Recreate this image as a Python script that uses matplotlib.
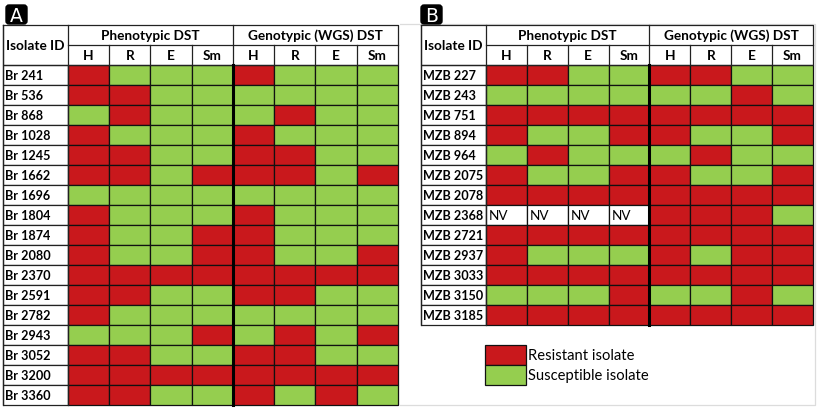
import matplotlib
matplotlib.use("Agg")
import matplotlib.pyplot as plt
from matplotlib.patches import Rectangle, FancyBboxPatch

plt.rcParams['font.family'] = ['Lato', 'DejaVu Sans']

# ---------------- data ----------------
drugs = ["H", "R", "E", "Sm"]
groups = ["Phenotypic DST", "Genotypic (WGS) DST"]

isolates_A = ["Br 241", "Br 536", "Br 868", "Br 1028", "Br 1245", "Br 1662", "Br 1696",
              "Br 1804", "Br 1874", "Br 2080", "Br 2370", "Br 2591", "Br 2782", "Br 2943",
              "Br 3052", "Br 3200", "Br 3360"]
pheno_A = ["RSSS", "RRSS", "SRSS", "RSSS", "RRSS", "RRSR", "SSSS",
           "RSSS", "RSSR", "RSSR", "RRRR", "RRSS", "RSSS", "SSSR",
           "RRSS", "RRRR", "RRSS"]
geno_A = ["RSSS", "SSSS", "SRSS", "RSSS", "RRSS", "RRSR", "SSSS",
          "RSSS", "RSSS", "RSSR", "RRRR", "RRSS", "SSSS", "SRSR",
          "RRSS", "RRRR", "RSRS"]

isolates_B = ["MZB 227", "MZB 243", "MZB 751", "MZB 894", "MZB 964", "MZB 2075", "MZB 2078",
              "MZB 2368", "MZB 2721", "MZB 2937", "MZB 3033", "MZB 3150", "MZB 3185"]
pheno_B = ["RRSS", "SSSS", "RRRR", "RSSR", "SRSS", "RSSR", "RRRR",
           "NNNN", "RRRR", "RSSS", "RRRR", "SSSR", "RRRR"]
geno_B = ["RRSS", "SSRS", "RRRR", "RSSR", "SRSS", "RSSR", "RRRR",
          "RRRS", "RRRR", "RSRR", "RRRR", "SSRS", "RRRR"]

legend_labels = ["Resistant isolate", "Susceptible isolate"]

RED = "#C9181C"
GREEN = "#95CE4F"
colors = {"R": RED, "S": GREEN, "N": "white"}

# ---------------- figure ----------------
W, H = 817, 410
fig = plt.figure(figsize=(W / 100, H / 100), dpi=100)
ax = fig.add_axes([0, 0, 1, 1])
ax.set_xlim(0, W)
ax.set_ylim(H, 0)
ax.axis("off")

# faint frame of panel B image
ax.plot([400, 815, 815, 400], [25, 25, 406, 406], color="#dcdcdc", lw=0.9, zorder=0)

FS_HEAD = 9.8
FS_ROW = 9.1


def draw_panel(letter, lx, x0, xid, x1, isolates, pheno, geno):
    top, h1, h2, rh = 26, 20, 20, 20
    y_data = top + h1 + h2
    n = len(isolates)
    colw = (x1 - xid) / 8.0
    ybot = y_data + n * rh

    # letter badge
    ax.add_patch(FancyBboxPatch((lx, 6), 21, 19, boxstyle="round,pad=0,rounding_size=3",
                                fc="black", ec="black", zorder=5))
    ax.text(lx + 10.5, 16, letter, color="white", ha="center", va="center",
            fontsize=13.5, zorder=6, family=["DejaVu Sans"])

    # header background
    ax.add_patch(Rectangle((x0, top), x1 - x0, h1 + h2, fc="white", ec="none", zorder=1))
    ax.text((x0 + xid) / 2, top + (h1 + h2) / 2, "Isolate ID", ha="center", va="center",
            fontsize=FS_HEAD, fontweight="bold", zorder=4)
    for g, gname in enumerate(groups):
        gx = xid + g * 4 * colw
        ax.text(gx + 2 * colw, top + h1 / 2, gname, ha="center", va="center",
                fontsize=FS_HEAD, fontweight="bold", zorder=4)
        for d, dn in enumerate(drugs):
            cx = gx + (d + 0.5) * colw
            ax.text(cx, top + h1 + h2 / 2, dn, ha="center", va="center",
                    fontsize=FS_HEAD, fontweight="bold", zorder=4)

    # data cells
    for i, name in enumerate(isolates):
        y = y_data + i * rh
        ax.add_patch(Rectangle((x0, y), xid - x0, rh, fc="white", ec="#222222", lw=0.9, zorder=2))
        ax.text(x0 + 2, y + rh / 2 + 0.5, name, ha="left", va="center",
                fontsize=FS_ROW, fontweight="bold", zorder=4)
        for g, codes in enumerate([pheno[i], geno[i]]):
            for d, c in enumerate(codes):
                cx = xid + (g * 4 + d) * colw
                ax.add_patch(Rectangle((cx, y), colw, rh, fc=colors[c], ec="#111111",
                                       lw=0.9, zorder=2))
                if c == "N":
                    ax.text(cx + 3, y + rh / 2 + 0.5, "NV", ha="left", va="center",
                            fontsize=FS_ROW + 0.6, zorder=4)

    # header grid lines
    lc = "#222222"
    ax.plot([x0, x1, x1, x0, x0], [top, top, y_data, y_data, top], color=lc, lw=0.9, zorder=3)
    ax.plot([xid, xid], [top, ybot], color=lc, lw=0.9, zorder=3)
    ax.plot([xid, x1], [top + h1, top + h1], color=lc, lw=0.9, zorder=3)
    for k in range(1, 8):
        xk = xid + k * colw
        ax.plot([xk, xk], [top + (0 if k == 4 else h1), y_data], color=lc, lw=0.9, zorder=3)
    # thick divider between groups in data area
    xm = xid + 4 * colw
    ax.plot([xm, xm], [y_data, ybot], color="black", lw=2.2, zorder=3)
    ax.plot([x0, x0], [top, ybot], color=lc, lw=0.9, zorder=3)


draw_panel("A", 6, 3, 68, 398, isolates_A, pheno_A, geno_A)
draw_panel("B", 421, 421, 486, 813, isolates_B, pheno_B, geno_B)

# legend
lx0, lw_, ly0, lh = 485, 41, 346, 20
for k, (lab, col) in enumerate(zip(legend_labels, [RED, GREEN])):
    y = ly0 + k * lh
    ax.add_patch(Rectangle((lx0, y), lw_, lh, fc=col, ec="#111111", lw=0.9, zorder=2))
    ax.text(lx0 + lw_ + 2, y + lh / 2 + 0.5, lab, ha="left", va="center", fontsize=10.6, zorder=4)

fig.savefig("out.png", dpi=100)
